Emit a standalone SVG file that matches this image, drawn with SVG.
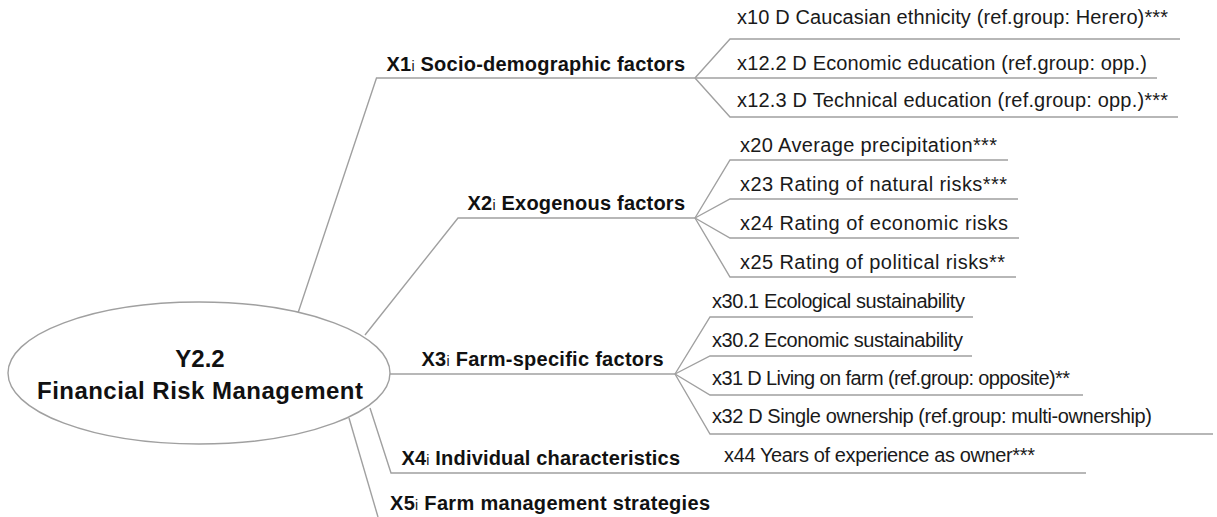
<svg xmlns="http://www.w3.org/2000/svg" width="1217" height="517" viewBox="0 0 1217 517">
<style>
.ln{fill:none;stroke:#a0a0a0;stroke-width:1.4;stroke-linejoin:miter}
.root{font-family:"Liberation Sans",Arial,sans-serif;font-size:24px;font-weight:bold;fill:#111;text-anchor:middle}
.br{font-family:"Liberation Sans",Arial,sans-serif;font-size:20px;font-weight:bold;fill:#111}
.sub{font-size:14px;font-weight:normal}
.lf{font-family:"Liberation Sans",Arial,sans-serif;font-size:20px;fill:#1a1a1a}
</style>
<rect width="1217" height="517" fill="#fff"/>
<g id="connectors">
<polyline class="ln" points="298,313 376.5,78 695,78"/>
<polyline class="ln" points="695,78 730,39 1180,39"/>
<polyline class="ln" points="695,78 1157,78"/>
<polyline class="ln" points="695,78 730,117 1178,117"/>
<polyline class="ln" points="365,335 458,218 695,218"/>
<polyline class="ln" points="695,218 730,160 1008,160"/>
<polyline class="ln" points="695,218 730,199 1018,199"/>
<polyline class="ln" points="695,218 730,238 1019,238"/>
<polyline class="ln" points="695,218 730,277 1016,277"/>
<polyline class="ln" points="390,374 675,374"/>
<polyline class="ln" points="675,374 710,317 973,317"/>
<polyline class="ln" points="675,374 710,356 972,356"/>
<polyline class="ln" points="675,374 710,395 1083,395"/>
<polyline class="ln" points="675,374 710,434 1213,434"/>
<polyline class="ln" points="370,408 391,473 1086,473"/>
<polyline class="ln" points="349,418 378,517"/>
</g>
<g id="root">
<ellipse cx="199" cy="373" rx="191" ry="71" fill="#fff" stroke="#a0a0a0" stroke-width="1.4"/>
<text class="root" x="200" y="367">Y2.2</text>
<text class="root" x="200" y="399" textLength="326">Financial Risk Management</text>
</g>
<g id="X1">
<text class="br" x="386.5" y="70.5" textLength="298.5">X1<tspan class="sub">i</tspan> Socio-demographic factors</text>
</g>
<g id="x10"><text class="lf" x="737" y="24" textLength="431">x10 D Caucasian ethnicity (ref.group: Herero)***</text></g>
<g id="x12_2"><text class="lf" x="737" y="70" textLength="410">x12.2 D Economic education (ref.group: opp.)</text></g>
<g id="x12_3"><text class="lf" x="737" y="107" textLength="431">x12.3 D Technical education (ref.group: opp.)***</text></g>
<g id="X2">
<text class="br" x="467.5" y="210" textLength="217.5">X2<tspan class="sub">i</tspan> Exogenous factors</text>
</g>
<g id="x20"><text class="lf" x="740" y="152" textLength="257">x20 Average precipitation***</text></g>
<g id="x23"><text class="lf" x="740" y="191" textLength="267">x23 Rating of natural risks***</text></g>
<g id="x24"><text class="lf" x="740" y="230" textLength="268">x24 Rating of economic risks</text></g>
<g id="x25"><text class="lf" x="740" y="269" textLength="265">x25 Rating of political risks**</text></g>
<g id="X3">
<text class="br" x="421.5" y="366" textLength="242">X3<tspan class="sub">i</tspan> Farm-specific factors</text>
</g>
<g id="x30_1"><text class="lf" x="712" y="308" textLength="253">x30.1 Ecological sustainability</text></g>
<g id="x30_2"><text class="lf" x="712" y="347" textLength="251">x30.2 Economic sustainability</text></g>
<g id="x31"><text class="lf" x="712" y="385" textLength="358">x31 D Living on farm (ref.group: opposite)**</text></g>
<g id="x32"><text class="lf" x="712" y="423" textLength="440">x32 D Single ownership (ref.group: multi-ownership)</text></g>
<g id="X4">
<text class="br" x="401.5" y="465" textLength="278.5">X4<tspan class="sub">i</tspan> Individual characteristics</text>
</g>
<g id="x44"><text class="lf" x="724" y="462" textLength="311">x44 Years of experience as owner***</text></g>
<g id="X5">
<text class="br" x="390" y="510" textLength="320">X5<tspan class="sub">i</tspan> Farm management strategies</text>
</g>
</svg>
